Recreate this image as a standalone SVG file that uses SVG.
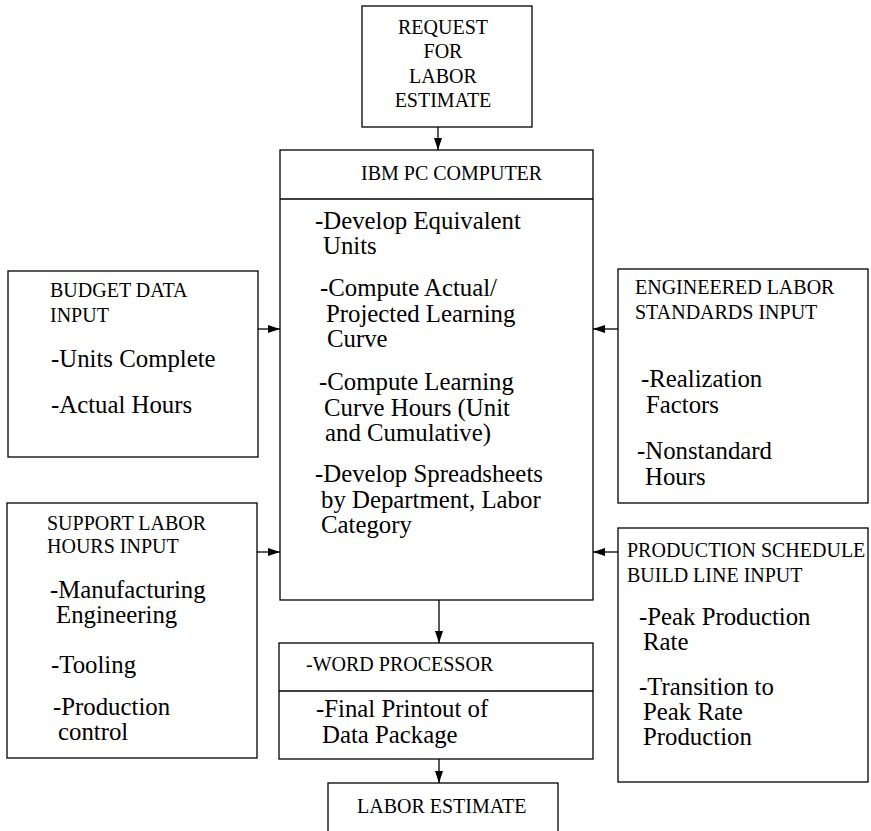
<svg xmlns="http://www.w3.org/2000/svg" width="871" height="831" viewBox="0 0 871 831">
<style>
  .box { fill: #ffffff; stroke: #000000; stroke-width: 1.3; }
  .line { fill: none; stroke: #000000; stroke-width: 1.3; }
  text { font-family: 'Liberation Serif', 'Times New Roman', Times, serif; fill: #000000; }
  .h { font-size: 20px; }
  .b { font-size: 24.8px; }
</style>
<defs>
  <marker id="arr" markerWidth="12" markerHeight="8" refX="12" refY="4" orient="auto" markerUnits="userSpaceOnUse">
    <path d="M0,0 L12,4 L0,8 Z" fill="#000000"/>
  </marker>
</defs>
<rect width="871" height="831" fill="#ffffff"/>

<g id="connectors">
  <line class="line" x1="438" y1="127" x2="438" y2="150" marker-end="url(#arr)"/>
  <line class="line" x1="258" y1="329" x2="280" y2="329" marker-end="url(#arr)"/>
  <line class="line" x1="257" y1="552" x2="280" y2="552" marker-end="url(#arr)"/>
  <line class="line" x1="618" y1="329" x2="593" y2="329" marker-end="url(#arr)"/>
  <line class="line" x1="618" y1="552" x2="593" y2="552" marker-end="url(#arr)"/>
  <line class="line" x1="439" y1="600" x2="439" y2="643" marker-end="url(#arr)"/>
  <line class="line" x1="439" y1="759" x2="439" y2="783" marker-end="url(#arr)"/>
</g>

<g id="request">
  <rect class="box" x="362" y="6" width="170" height="121"/>
  <text class="h" x="443" y="34" text-anchor="middle">REQUEST</text>
  <text class="h" x="443" y="58" text-anchor="middle">FOR</text>
  <text class="h" x="443" y="83" text-anchor="middle">LABOR</text>
  <text class="h" x="443" y="107" text-anchor="middle">ESTIMATE</text>
</g>

<g id="ibm">
  <rect class="box" x="280" y="150" width="313" height="450"/>
  <line class="line" x1="280" y1="199" x2="593" y2="199"/>
  <text class="h" x="361" y="180">IBM PC COMPUTER</text>
  <text class="b" x="315" y="229">-Develop Equivalent</text>
  <text class="b" x="323" y="254">Units</text>
  <text class="b" x="320" y="296">-Compute Actual/</text>
  <text class="b" x="326" y="322">Projected Learning</text>
  <text class="b" x="327" y="347">Curve</text>
  <text class="b" x="319" y="390">-Compute Learning</text>
  <text class="b" x="324" y="416">Curve Hours (Unit</text>
  <text class="b" x="325" y="441">and Cumulative)</text>
  <text class="b" x="315" y="482">-Develop Spreadsheets</text>
  <text class="b" x="321" y="508">by Department, Labor</text>
  <text class="b" x="321" y="533">Category</text>
</g>

<g id="budget">
  <rect class="box" x="8" y="271" width="250" height="186"/>
  <text class="h" x="50" y="297">BUDGET DATA</text>
  <text class="h" x="50" y="322">INPUT</text>
  <text class="b" x="51" y="367">-Units Complete</text>
  <text class="b" x="51" y="413">-Actual Hours</text>
</g>

<g id="support">
  <rect class="box" x="7" y="503" width="250" height="255"/>
  <text class="h" x="47" y="530">SUPPORT LABOR</text>
  <text class="h" x="47" y="553">HOURS INPUT</text>
  <text class="b" x="50" y="598">-Manufacturing</text>
  <text class="b" x="56" y="623">Engineering</text>
  <text class="b" x="51" y="673">-Tooling</text>
  <text class="b" x="53" y="715">-Production</text>
  <text class="b" x="58" y="740">control</text>
</g>

<g id="engineered">
  <rect class="box" x="618" y="269" width="250" height="234"/>
  <text class="h" x="635" y="294">ENGINEERED LABOR</text>
  <text class="h" x="635" y="319">STANDARDS INPUT</text>
  <text class="b" x="641" y="387">-Realization</text>
  <text class="b" x="646" y="413">Factors</text>
  <text class="b" x="637" y="459">-Nonstandard</text>
  <text class="b" x="645" y="485">Hours</text>
</g>

<g id="production">
  <rect class="box" x="618" y="528" width="250" height="254"/>
  <text class="h" x="627" y="557">PRODUCTION SCHEDULE</text>
  <text class="h" x="627" y="582">BUILD LINE INPUT</text>
  <text class="b" x="639" y="625">-Peak Production</text>
  <text class="b" x="643" y="650">Rate</text>
  <text class="b" x="639" y="695">-Transition to</text>
  <text class="b" x="643" y="720">Peak Rate</text>
  <text class="b" x="643" y="745">Production</text>
</g>

<g id="wordprocessor">
  <rect class="box" x="279" y="643" width="314" height="116"/>
  <line class="line" x1="279" y1="691" x2="593" y2="691"/>
  <text class="h" x="306" y="671">-WORD PROCESSOR</text>
  <text class="b" x="316" y="717">-Final Printout of</text>
  <text class="b" x="322" y="743">Data Package</text>
</g>

<g id="labor">
  <rect class="box" x="328" y="783" width="230" height="60"/>
  <text class="h" x="357" y="813">LABOR ESTIMATE</text>
</g>
</svg>
